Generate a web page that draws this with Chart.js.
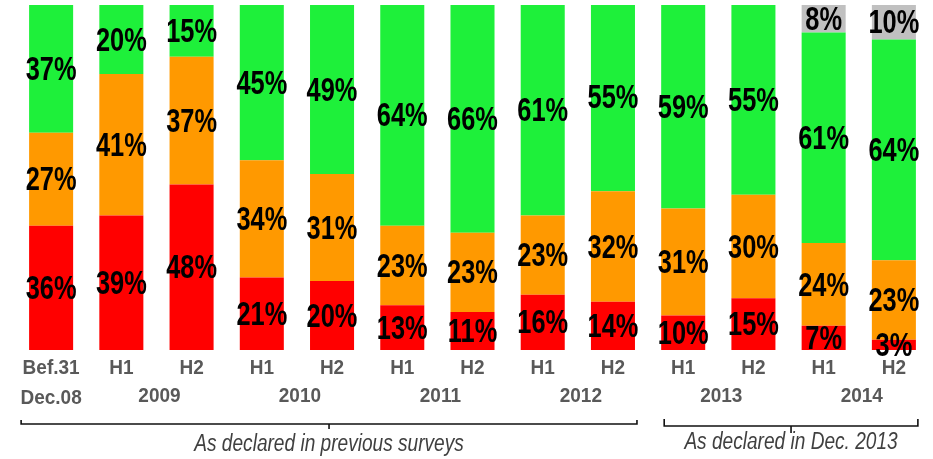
<!DOCTYPE html>
<html>
<head>
<meta charset="utf-8">
<script src="https://cdn.jsdelivr.net/npm/chart.js@4/dist/chart.umd.min.js"></script>
<style>
  body { margin: 0; background: #fff; }
  #wrap { width: 933px; height: 459px; }
</style>
</head>
<body>
<div id="wrap"><canvas id="myChart"></canvas></div>
<script>
// periods: first row under each bar, second row holds the years
const tickLabels = ['Bef.31', 'H1', 'H2', 'H1', 'H2', 'H1', 'H2', 'H1', 'H2', 'H1', 'H2', 'H1', 'H2'];
const firstBarSecondLine = 'Dec.08';
const yearLabels = ['2009', '2010', '2011', '2012', '2013', '2014'];

// shares in %, bottom to top
const redValues    = [36, 39, 48, 21, 20, 13, 11, 16, 14, 10, 15, 7, 3];
const orangeValues = [27, 41, 37, 34, 31, 23, 23, 23, 32, 31, 30, 24, 23];
const greenValues  = [37, 20, 15, 45, 49, 64, 66, 61, 55, 59, 55, 61, 64];
const grayValues   = [null, null, null, null, null, null, null, null, null, null, null, 8, 10];

const groupTexts = ['As declared in previous surveys', 'As declared in Dec. 2013'];

// text drawn squeezed horizontally (narrow face look)
function narrowText(ctx, txt, x, y, font, color, sx) {
    ctx.save();
    ctx.font = font;
    ctx.fillStyle = color;
    ctx.textAlign = 'center';
    ctx.textBaseline = 'middle';
    ctx.translate(x, y);
    ctx.scale(sx, 1);
    ctx.fillText(txt, 0, 0);
    ctx.restore();
}

const labelsPlugin = {
    id: 'segmentLabels',
    afterDatasetsDraw(chart) {
        const ctx = chart.ctx;
        chart.data.datasets.forEach((ds, di) => {
            const meta = chart.getDatasetMeta(di);
            meta.data.forEach((bar, i) => {
                const v = ds.data[i];
                if (!v) return;
                const y = (bar.y + bar.base) / 2;
                narrowText(ctx, v + '%', bar.x, y + 2, 'bold 33px "Liberation Sans", Arial, sans-serif', '#000', 0.77);
            });
        });
    },
    afterDraw(chart) {
        const ctx = chart.ctx;
        const xs = chart.scales.x;
        const tickFont = 'bold 20px "Liberation Sans", Arial, sans-serif';
        const gray = '#595959';

        tickLabels.forEach((t, i) => {
            narrowText(ctx, t, xs.getPixelForValue(i), 368, tickFont, gray, 0.95);
        });
        narrowText(ctx, firstBarSecondLine, xs.getPixelForValue(0), 398, tickFont, gray, 0.95);
        yearLabels.forEach((t, k) => {
            const a = xs.getPixelForValue(1 + 2 * k);
            const b = xs.getPixelForValue(2 + 2 * k);
            narrowText(ctx, t, (a + b) / 2 + 3, 396, tickFont, gray, 0.95);
        });

        // brackets under the two survey groups
        const half = 22;
        const brackets = [
            { x0: xs.getPixelForValue(0) - half - 8, x1: xs.getPixelForValue(8) + half + 2, y: 424, up: 4, down: 5, text: groupTexts[0], ty: 445 },
            { x0: xs.getPixelForValue(9) - half + 3, x1: xs.getPixelForValue(12) + half + 2, y: 426, up: 7, down: 7, text: groupTexts[1], ty: 443 }
        ];
        ctx.save();
        ctx.strokeStyle = '#111';
        ctx.lineWidth = 1.6;
        brackets.forEach(b => {
            const mid = (b.x0 + b.x1) / 2;
            ctx.beginPath();
            ctx.moveTo(b.x0, b.y - b.up);
            ctx.lineTo(b.x0, b.y);
            ctx.lineTo(b.x1, b.y);
            ctx.lineTo(b.x1, b.y - b.up);
            ctx.moveTo(mid, b.y);
            ctx.lineTo(mid, b.y + b.down);
            ctx.stroke();
            narrowText(ctx, b.text, mid, b.ty, 'italic 23px "Liberation Sans", Arial, sans-serif', '#404040', 0.83);
        });
        ctx.restore();
    }
};

window.onload = function () {
    let myChart = document.getElementById('myChart').getContext('2d');
    const common = { barPercentage: 0.627, categoryPercentage: 1.0, borderWidth: 0 };

    new Chart(myChart, {
        type: 'bar',
        data: {
            labels: tickLabels,
            datasets: [
                { label: 'red', data: redValues, backgroundColor: '#ff0000', ...common },
                { label: 'orange', data: orangeValues, backgroundColor: '#ff9900', ...common },
                { label: 'green', data: greenValues, backgroundColor: '#1ef03a', ...common },
                { label: 'gray', data: grayValues, backgroundColor: '#c0c0c0', ...common }
            ]
        },
        options: {
            responsive: true, maintainAspectRatio: false, animation: false,
            layout: { padding: { left: 16, right: 4, top: 5, bottom: 109 } },
            plugins: { legend: { display: false }, tooltip: { enabled: false } },
            scales: {
                x: { stacked: true, display: false },
                y: { stacked: true, display: false, min: 0, max: 100 }
            }
        },
        plugins: [labelsPlugin]
    });
};
</script>
</body>
</html>
